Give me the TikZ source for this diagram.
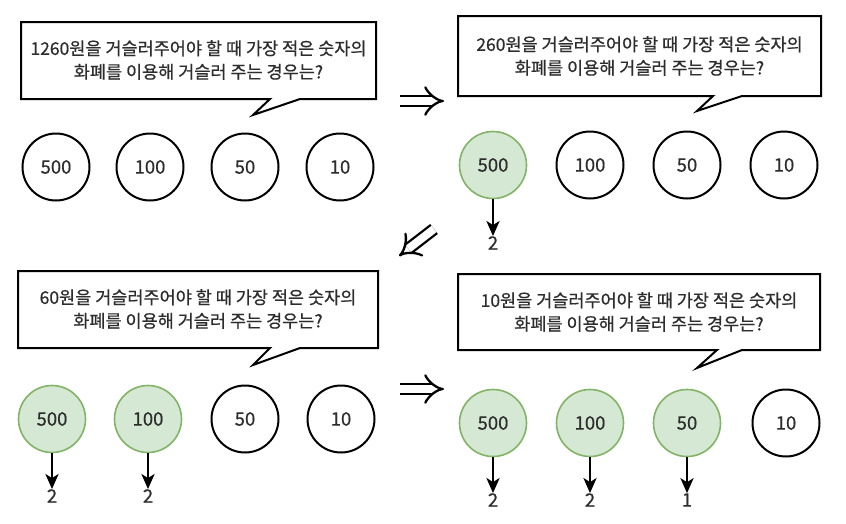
\documentclass[tikz,border=0pt]{standalone}
\usepackage{fontspec}
\usetikzlibrary{arrows.meta}
\newfontfamily\kr[FakeBold=0.6]{Noto Sans CJK KR}
\definecolor{txt}{RGB}{45,45,45}
\definecolor{gfill}{RGB}{213,232,212}
\definecolor{gline}{RGB}{130,179,102}
\begin{document}
\begin{tikzpicture}[x=1pt,y=-1pt,
  every node/.style={font=\kr\fontsize{17.5}{23.5}\selectfont, text=txt},
  bubble/.style={draw=black, line width=2pt, line join=miter, fill=white},
  btext/.style={align=center, inner sep=0pt},
  coin/.style={circle, draw=black, line width=2pt, minimum size=67pt, inner sep=0pt, font=\kr\fontsize{18.5}{22}\selectfont},
  used/.style={coin, draw=gline, fill=gfill, line width=1.6pt},
  count/.style={inner sep=0pt, anchor=center, font=\kr\fontsize{18.5}{22}\selectfont},
  down/.style={draw=black, line width=2.6pt, -{Stealth[length=15pt,width=13pt,inset=4pt]}},
  bigarrow/.style={-{Implies}, double, double distance=8pt, line width=2.3pt, black}
]
\useasboundingbox (0,0) rectangle (846,523);

% Bubble 1
\draw[bubble] (21,22) -- (376,22) -- (376,99) -- (300,99) -- (253,115) -- (270,99) -- (21,99) -- cycle;
\node[btext] (t1) at (198.5,60) {1260원을 거슬러주어야 할 때 가장 적은 숫자의\\화폐를 이용해 거슬러 주는 경우는?};

% Bubble 2
\draw[bubble] (458,16) -- (821,16) -- (821,96) -- (742,96) -- (697,111) -- (713,96) -- (458,96) -- cycle;
\node[btext] (t2) at (639.5,56) {260원을 거슬러주어야 할 때 가장 적은 숫자의\\화폐를 이용해 거슬러 주는 경우는?};

% Bubble 3
\draw[bubble] (18,271) -- (378,271) -- (378,348) -- (300,348) -- (253,365) -- (270,348) -- (18,348) -- cycle;
\node[btext] (t3) at (198,309) {60원을 거슬러주어야 할 때 가장 적은 숫자의\\화폐를 이용해 거슬러 주는 경우는?};

% Bubble 4
\draw[bubble] (458,274) -- (820,274) -- (820,350) -- (742,350) -- (697,368) -- (717,350) -- (458,350) -- cycle;
\node[btext] (t4) at (639,312) {10원을 거슬러주어야 할 때 가장 적은 숫자의\\화폐를 이용해 거슬러 주는 경우는?};

% Row 1
\node[coin] (a1) at (56,167) {500};
\node[coin] (a2) at (150,167) {100};
\node[coin] (a3) at (245,167) {50};
\node[coin] (a4) at (340,167) {10};

% Row 2
\node[used] (b1) at (493,165) {500};
\node[coin] (b2) at (590,165) {100};
\node[coin] (b3) at (687,165) {50};
\node[coin] (b4) at (784,165) {10};
\node[count] (bc1) at (493,243) {2};
\draw[down] (b1.south) -- (bc1.north);

% Row 3
\node[used] (c1) at (52,419) {500};
\node[used] (c2) at (148,419) {100};
\node[coin] (c3) at (245,419) {50};
\node[coin] (c4) at (341,419) {10};
\node[count] (cc1) at (52,496) {2};
\node[count] (cc2) at (148,496) {2};
\draw[down] (c1.south) -- (cc1.north);
\draw[down] (c2.south) -- (cc2.north);

% Row 4
\node[used] (d1) at (493,423) {500};
\node[used] (d2) at (590,423) {100};
\node[used] (d3) at (687,423) {50};
\node[coin] (d4) at (786,423) {10};
\node[count] (dc1) at (493,500) {2};
\node[count] (dc2) at (590,500) {2};
\node[count] (dc3) at (687,500) {1};
\draw[down] (d1.south) -- (dc1.north);
\draw[down] (d2.south) -- (dc2.north);
\draw[down] (d3.south) -- (dc3.north);

% Transition arrows
\coordinate (r1s) at (400,101);
\coordinate (r1e) at (444,101);
\coordinate (r2s) at (400,389);
\coordinate (r2e) at (444,389);
\coordinate (ds) at (434,229);
\coordinate (de) at (399,256);
\draw[bigarrow] (r1s) -- (r1e);
\draw[bigarrow] (r2s) -- (r2e);
\draw[bigarrow] (ds) -- (de);
\end{tikzpicture}
\end{document}
